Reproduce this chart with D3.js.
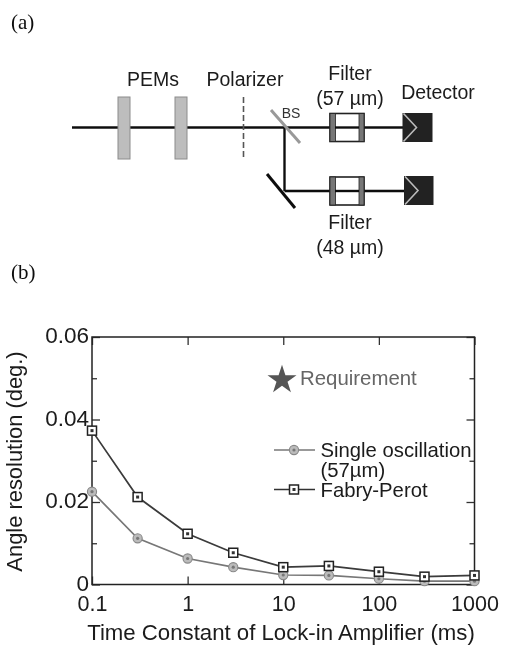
<!DOCTYPE html>
<html><head><meta charset="utf-8">
<script src="https://cdnjs.cloudflare.com/ajax/libs/d3/7.8.5/d3.min.js"></script>
<style>html,body{margin:0;padding:0;background:#fff}svg{display:block}
text{font-family:"Liberation Sans",Arial,sans-serif;fill:#1a1a1a}</style></head>
<body><script>
const timeConstants=[0.1,0.3,1,3,10,30,100,300,1000];
const singleOsc=[0.0225,0.0112,0.0063,0.0042,0.0023,0.0022,0.0014,0.0008,0.0008];
const fabryPerot=[0.0373,0.0212,0.0123,0.0077,0.0042,0.0045,0.0031,0.0019,0.0022];
const xTickVals=[0.1,1,10,100,1000];
const xTickLabels=["0.1","1","10","100","1000"];
const yTickVals=[0,0.02,0.04,0.06];
const yTickLabels=["0","0.02","0.04","0.06"];
const yMinorVals=[0.01,0.03,0.05];

const svg=d3.select("body").append("svg").attr("width",505).attr("height",646);
const defs=svg.append("defs");
defs.append("filter").attr("id","soft").attr("x","-5%").attr("y","-5%").attr("width","110%").attr("height","110%")
  .append("feGaussianBlur").attr("stdDeviation",0.5);
const root=svg.append("g").attr("filter","url(#soft)");
function label(g,x,y,t,size,anchor,fill,family){
  const e=g.append("text").attr("x",x).attr("y",y).attr("font-size",size).attr("text-anchor",anchor||"start").text(t);
  if(fill)e.style("fill",fill);
  if(family)e.style("font-family",family);
  return e;
}
const serif='"Liberation Serif",serif';
label(root,11,29,"(a)",21,"start","#111",serif);
label(root,11,279,"(b)",21,"start","#111",serif);

// ---- schematic (a)
const a=root.append("g");
function ln(x1,y1,x2,y2,c,w,dash){const l=a.append("line").attr("x1",x1).attr("y1",y1).attr("x2",x2).attr("y2",y2).attr("stroke",c).attr("stroke-width",w);if(dash)l.attr("stroke-dasharray",dash);return l;}
ln(72,127.5,404,127.5,"#111",2.4);
ln(284.5,127.5,284.5,191,"#111",2.4);
ln(284.5,191,404,191,"#111",2.4);
[124,181].forEach(x=>a.append("rect").attr("x",x-6).attr("y",97).attr("width",12).attr("height",62).attr("fill","#bdbdbd").attr("stroke","#8c8c8c").attr("stroke-width",1));
ln(243.5,97,243.5,160,"#555",1.6,"6 3");
ln(271,110,300,143,"#999",3);
ln(267,174,295,208,"#111",3);
[127.5,191].forEach(y=>{
  a.append("rect").attr("x",330).attr("y",y-14).attr("width",34).attr("height",28).attr("fill","#fff").attr("stroke","#222").attr("stroke-width",1.6);
  a.append("rect").attr("x",330).attr("y",y-14).attr("width",5.5).attr("height",28).attr("fill","#777").attr("stroke","#222").attr("stroke-width",.8);
  a.append("rect").attr("x",359).attr("y",y-14).attr("width",5).attr("height",28).attr("fill","#777").attr("stroke","#222").attr("stroke-width",.8);
  a.append("line").attr("x1",335).attr("x2",359).attr("y1",y).attr("y2",y).attr("stroke","#111").attr("stroke-width",2.4);
});
[[402.5,432.5,127.5],[404,433.5,190.5]].forEach(([x0,x1,y])=>{
  a.append("rect").attr("x",x0).attr("y",y-14.5).attr("width",x1-x0).attr("height",29).attr("fill","#222");
  a.append("path").attr("d",`M${x0+1},${y-14}L${x0+14},${y}L${x0+1},${y+14}`).attr("fill","none").attr("stroke","#bbb").attr("stroke-width",1.6);
});
label(a,153,86,"PEMs",19.5,"middle");
label(a,245,86,"Polarizer",19.5,"middle");
label(a,350,80,"Filter",19.5,"middle");
label(a,350,105,"(57 µm)",19.5,"middle");
label(a,438,99,"Detector",19.5,"middle");
label(a,291,118,"BS",14,"middle","#333");
label(a,350,229,"Filter",19.5,"middle");
label(a,350,254,"(48 µm)",19.5,"middle");

// ---- chart (b)
const L=92,R=474.5,T=337,B=584.5;
const x=d3.scaleLog().domain([0.1,1000]).range([L,R]);
const y=d3.scaleLinear().domain([0,0.06]).range([B,T]);
const c=root.append("g");

const tickCol="#333";
const xAxis=d3.axisBottom(x).tickValues(xTickVals).tickSize(-8).tickPadding(11).tickFormat((d,i)=>xTickLabels[i]);
const xG=c.append("g").attr("transform",`translate(0,${B})`).call(xAxis);
c.append("g").attr("transform",`translate(0,${T})`).call(d3.axisTop(x).tickValues(xTickVals).tickSize(-8).tickFormat(""));
const yAxis=d3.axisLeft(y).tickValues(yTickVals).tickSize(-8).tickPadding(3).tickFormat((d,i)=>yTickLabels[i]);
const yG=c.append("g").attr("transform",`translate(${L},0)`).call(yAxis);
c.append("g").attr("transform",`translate(${R},0)`).call(d3.axisRight(y).tickValues(yTickVals).tickSize(-8).tickFormat(""));
c.append("g").attr("transform",`translate(${L},0)`).call(d3.axisLeft(y).tickValues(yMinorVals).tickSize(-5).tickFormat(""));
c.append("g").attr("transform",`translate(${R},0)`).call(d3.axisRight(y).tickValues(yMinorVals).tickSize(-5).tickFormat(""));
c.selectAll(".domain").remove();
c.selectAll(".tick line").attr("stroke",tickCol).attr("stroke-width",1.3);
c.selectAll(".tick text").style("font-family",'"Liberation Sans",sans-serif').style("fill","#1a1a1a");
xG.selectAll("text").attr("font-size",21.5);
yG.selectAll("text").attr("font-size",22.5).attr("dy","0.26em");
c.append("rect").attr("x",L).attr("y",T).attr("width",R-L).attr("height",B-T).attr("fill","none").attr("stroke","#222").attr("stroke-width",1.5);

label(c,281,639.5,"Time Constant of Lock-in Amplifier (ms)",22.2,"middle");
label(c,0,0,"Angle resolution (deg.)",21.9,"middle").attr("transform",`translate(21.5,461.5) rotate(-90)`);

const line=d3.line().x((d,i)=>x(timeConstants[i])).y(d=>y(d));
c.append("path").datum(singleOsc).attr("d",line).attr("fill","none").attr("stroke","#777").attr("stroke-width",1.7);
c.append("path").datum(fabryPerot).attr("d",line).attr("fill","none").attr("stroke","#3a3a3a").attr("stroke-width",1.7);

function circleMark(g,px,py){
  g.append("circle").attr("cx",px).attr("cy",py).attr("r",4.6).attr("fill","#bbb").attr("stroke","#888").attr("stroke-width",1.1);
  g.append("circle").attr("cx",px).attr("cy",py).attr("r",1.6).attr("fill","#777");
}
function squareMark(g,px,py){
  g.append("rect").attr("x",px-4.5).attr("y",py-4.5).attr("width",9).attr("height",9).attr("fill","#fff").attr("stroke","#222").attr("stroke-width",1.5);
  g.append("rect").attr("x",px-1.5).attr("y",py-1.5).attr("width",3).attr("height",3).attr("fill","#333");
}
singleOsc.forEach((d,i)=>circleMark(c,x(timeConstants[i]),y(d)));
fabryPerot.forEach((d,i)=>squareMark(c,x(timeConstants[i]),y(d)));

// legend
c.append("path").attr("d",d3.symbol().type(d3.symbolStar).size(260)()).attr("transform","translate(282,380)").attr("fill","#555");
label(c,300,385,"Requirement",20.4,"start","#666");
c.append("line").attr("x1",274).attr("x2",315).attr("y1",450).attr("y2",450).attr("stroke","#777").attr("stroke-width",1.5);
circleMark(c,294,450);
label(c,320.5,457,"Single oscillation",20.3,"start");
label(c,320.5,477,"(57µm)",20.3,"start");
c.append("line").attr("x1",274).attr("x2",315).attr("y1",489.5).attr("y2",489.5).attr("stroke","#333").attr("stroke-width",1.5);
squareMark(c,294,489.5);
label(c,320.5,497,"Fabry-Perot",20.3,"start");
</script></body></html>
